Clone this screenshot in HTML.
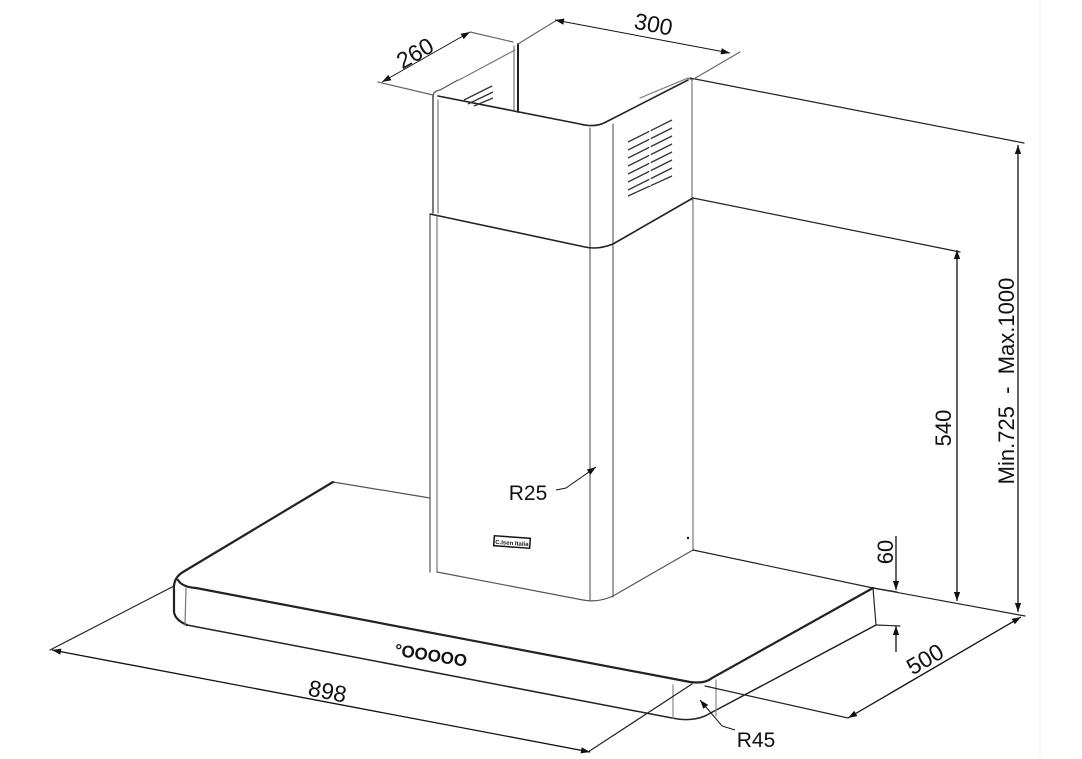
<!DOCTYPE html>
<html><head><meta charset="utf-8"><style>
html,body{margin:0;padding:0;background:#fff;}
svg{display:block;}
text{font-family:"Liberation Sans",sans-serif;fill:#111;white-space:pre;}
</style></head><body>
<svg width="1082" height="759" viewBox="0 0 1082 759" xmlns="http://www.w3.org/2000/svg">
<defs>
<marker id="a" viewBox="0 0 10 10" refX="10" refY="5" markerWidth="12" markerHeight="9" orient="auto-start-reverse" markerUnits="userSpaceOnUse"><path d="M0,1.5 L10,5 L0,8.5 z" fill="#111"/></marker>
</defs>
<line x1="1040" y1="0" x2="1040" y2="759" stroke="#eee" stroke-width="1"/>
<g fill="none" stroke="#222" stroke-width="1.2" stroke-linecap="round">
<path d="M433,97 Q433,91 440,90 L458,80" stroke="#555"/>
<path d="M433,95 L433,213" />
<path d="M438,100 L438,213" stroke="#777"/>
<path d="M438,96 L580,124 Q595,128 606,122 L688,80" stroke-width="1.6"/>
<path d="M518,44 L518,112" stroke-width="2"/>
<path d="M514,46 L514,110" stroke="#777"/>
<path d="M459,80 L515,50" stroke="#777"/>
<path d="M640,98 L688,78 L692,80 L692,200" stroke="#777"/>
<path d="M590,128 L590,600" stroke="#666"/>
<path d="M613,124 L613,597" stroke="#666"/>
<path d="M430,214 L585,247 Q598,250 613,244 L693,198" stroke-width="1.6"/>
<path d="M430,214 L430,572" stroke="#555"/>
<path d="M437,216 L437,572" stroke="#777"/>
<path d="M437,572 L583,600 Q598,603 613,596 L693,550" stroke="#555"/>
<path d="M693,198 L693,550" stroke="#777"/>
<path d="M333,482 L430,498" stroke="#555"/>
<path d="M693,550 L873,588" stroke="#222"/>
<path d="M333,482 L183,572 Q173,578 174,590 L174,612 Q175,620 187,625" stroke-width="2.2"/>
<path d="M186,588 L185,625" stroke="#777"/>
<path d="M178,580 Q182,587 196,588 L690,682 Q705,684 712,678 L873,588" stroke-width="2.2"/>
<path d="M187,625 L672,718 Q690,722 705,716 L876,625" stroke-width="1.5"/>
<path d="M873,588 L876,625"/>
<path d="M873,588 L897,592"/>
<path d="M876,625 L900,626"/>
<path d="M673,685 L673,718" stroke="#888"/>
<path d="M716,680 L716,716" stroke="#888"/>
<path d="M174,586 L50,650"/>
<path d="M692,684 L588,752"/>
<path d="M705,686 L848,718"/>
<path d="M873,588 L1025,616"/>
<path d="M693,198 L960,252"/>
<path d="M690,78 L1024,143"/>
<path d="M518,44 L557,20" stroke="#666"/>
<path d="M692,80 L740,52" stroke="#666"/>
<path d="M433,95 L378,82" stroke="#666"/>
<path d="M513,42 L470,32" stroke="#666"/>
</g>
<g stroke="#111" stroke-width="1.3" fill="none">
<line x1="52" y1="650" x2="590" y2="752" marker-start="url(#a)" marker-end="url(#a)"/>
<line x1="848" y1="718" x2="1021" y2="617" marker-start="url(#a)" marker-end="url(#a)"/>
<line x1="957" y1="250" x2="957" y2="601" marker-start="url(#a)" marker-end="url(#a)"/>
<line x1="1018" y1="145" x2="1018" y2="612" marker-start="url(#a)" marker-end="url(#a)"/>
<line x1="896" y1="536" x2="896" y2="590" marker-end="url(#a)"/>
<line x1="896" y1="652" x2="896" y2="626" marker-end="url(#a)"/>
<line x1="555" y1="20" x2="730" y2="53" stroke-width="1" marker-start="url(#a)" marker-end="url(#a)"/>
<line x1="382" y1="82" x2="470" y2="32" stroke-width="1" marker-start="url(#a)" marker-end="url(#a)"/>
<path d="M556,490 L566,488 L596,467" stroke-width="1" marker-end="url(#a)"/>
<path d="M735,730 L722,726 L700,700" stroke-width="1" marker-end="url(#a)"/>
</g>
<g stroke="#333" stroke-width="1.3">
<path d="M628,142 L672,120 M628,150 L672,128 M628,158 L672,136 M628,166 L672,144 M628,174 L672,152 M628,182 L672,160 M628,190 L672,168 M628,196 L672,176"/>
<path d="M650,130 L650,186" stroke="#fff" stroke-width="1.5"/>
<path d="M464,100 L492,86 M468,104 L493,92 M474,106 L493,98"/>
</g>
<rect x="494" y="537" width="36" height="10" fill="#fff" stroke="#111" stroke-width="1.5" transform="rotate(4 512 542)"/>
<text x="512" y="545" font-size="6" font-weight="bold" text-anchor="middle" transform="rotate(4 512 542)">C.Isen Italia</text>
<circle cx="688" cy="538" r="1.2" fill="#111"/>
<text x="528" y="500" font-size="21" text-anchor="middle">R25</text>
<text x="756" y="747" font-size="21" text-anchor="middle">R45</text>
<text x="0" y="0" font-size="23" text-anchor="middle" transform="translate(326,699) rotate(11)">898</text>
<text x="0" y="0" font-size="23" text-anchor="middle" transform="translate(929,666) rotate(-30)">500</text>
<text x="0" y="0" font-size="23" text-anchor="middle" transform="translate(652,32) rotate(11)">300</text>
<text x="0" y="0" font-size="23" text-anchor="middle" transform="translate(419,60) rotate(-30)">260</text>
<text x="0" y="0" font-size="22" text-anchor="middle" transform="translate(893,552) rotate(-90)">60</text>
<text x="0" y="0" font-size="22" text-anchor="middle" transform="translate(951,428) rotate(-90)">540</text>
<text x="0" y="0" font-size="22" text-anchor="middle" transform="translate(1014,381) rotate(-90)">Min.725  -  Max.1000</text>
<text x="0" y="0" font-size="17" font-weight="bold" text-anchor="middle" transform="translate(430,661) rotate(9)">°OOOOO</text>
</svg>
</body></html>
